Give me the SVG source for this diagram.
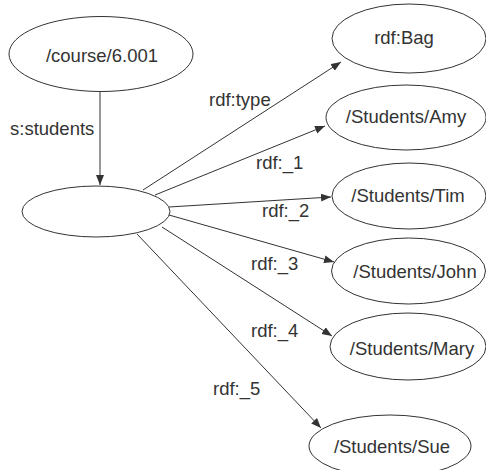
<svg xmlns="http://www.w3.org/2000/svg" width="486" height="470" viewBox="0 0 486 470">
  <style>
    .node ellipse { fill: #ffffff; stroke: #333333; stroke-width: 1; }
    text { font-family: "Liberation Sans", Arial, sans-serif; font-size: 18.5px; fill: #333333; }
    .node text { text-anchor: middle; }
    .edge line { stroke: #333333; stroke-width: 1; marker-end: url(#arrow); }
  </style>
  <defs>
    <marker id="arrow" markerUnits="userSpaceOnUse" markerWidth="12" markerHeight="10" refX="10" refY="4" orient="auto">
      <path d="M0,0 L10,4 L0,8 Z" fill="#333333"/>
    </marker>
  </defs>
  <rect width="486" height="470" fill="#ffffff"/>

  <!-- connectors -->
  <g id="edges">
    <g class="edge" id="e-students">
      <line x1="100" y1="92" x2="100" y2="185"/>
      <text x="10" y="135">s:students</text>
    </g>
    <g class="edge" id="e-type">
      <line x1="143" y1="190" x2="341" y2="62"/>
      <text x="209" y="106">rdf:type</text>
    </g>
    <g class="edge" id="e-1">
      <line x1="155" y1="195" x2="325" y2="126"/>
      <text x="256" y="169">rdf:_1</text>
    </g>
    <g class="edge" id="e-2">
      <line x1="169" y1="207" x2="331" y2="197"/>
      <text x="262" y="217">rdf:_2</text>
    </g>
    <g class="edge" id="e-3">
      <line x1="169" y1="215" x2="334" y2="262"/>
      <text x="251" y="270">rdf:_3</text>
    </g>
    <g class="edge" id="e-4">
      <line x1="162" y1="227" x2="332" y2="336"/>
      <text x="251" y="337">rdf:_4</text>
    </g>
    <g class="edge" id="e-5">
      <line x1="137" y1="234" x2="321" y2="428"/>
      <text x="213" y="395">rdf:_5</text>
    </g>
  </g>

  <!-- nodes -->
  <g class="node" id="course">
    <ellipse cx="101" cy="54" rx="92" ry="37.5"/>
    <text x="102" y="62">/course/6.001</text>
  </g>
  <g class="node" id="bag-node">
    <ellipse cx="96" cy="211.5" rx="74" ry="25.5"/>
  </g>
  <g class="node" id="rdf-bag">
    <ellipse cx="409" cy="38.5" rx="77" ry="34.5"/>
    <text x="404" y="44">rdf:Bag</text>
  </g>
  <g class="node" id="amy">
    <ellipse cx="406" cy="117.5" rx="80" ry="32.5"/>
    <text x="406" y="123">/Students/Amy</text>
  </g>
  <g class="node" id="tim">
    <ellipse cx="409" cy="196" rx="77" ry="33"/>
    <text x="408" y="202">/Students/Tim</text>
  </g>
  <g class="node" id="john">
    <ellipse cx="408.5" cy="271" rx="77" ry="33"/>
    <text x="415" y="278">/Students/John</text>
  </g>
  <g class="node" id="mary">
    <ellipse cx="408" cy="346.5" rx="78" ry="33.5"/>
    <text x="412" y="355">/Students/Mary</text>
  </g>
  <g class="node" id="sue">
    <ellipse cx="390" cy="446" rx="81" ry="31"/>
    <text x="392" y="453">/Students/Sue</text>
  </g>
</svg>
